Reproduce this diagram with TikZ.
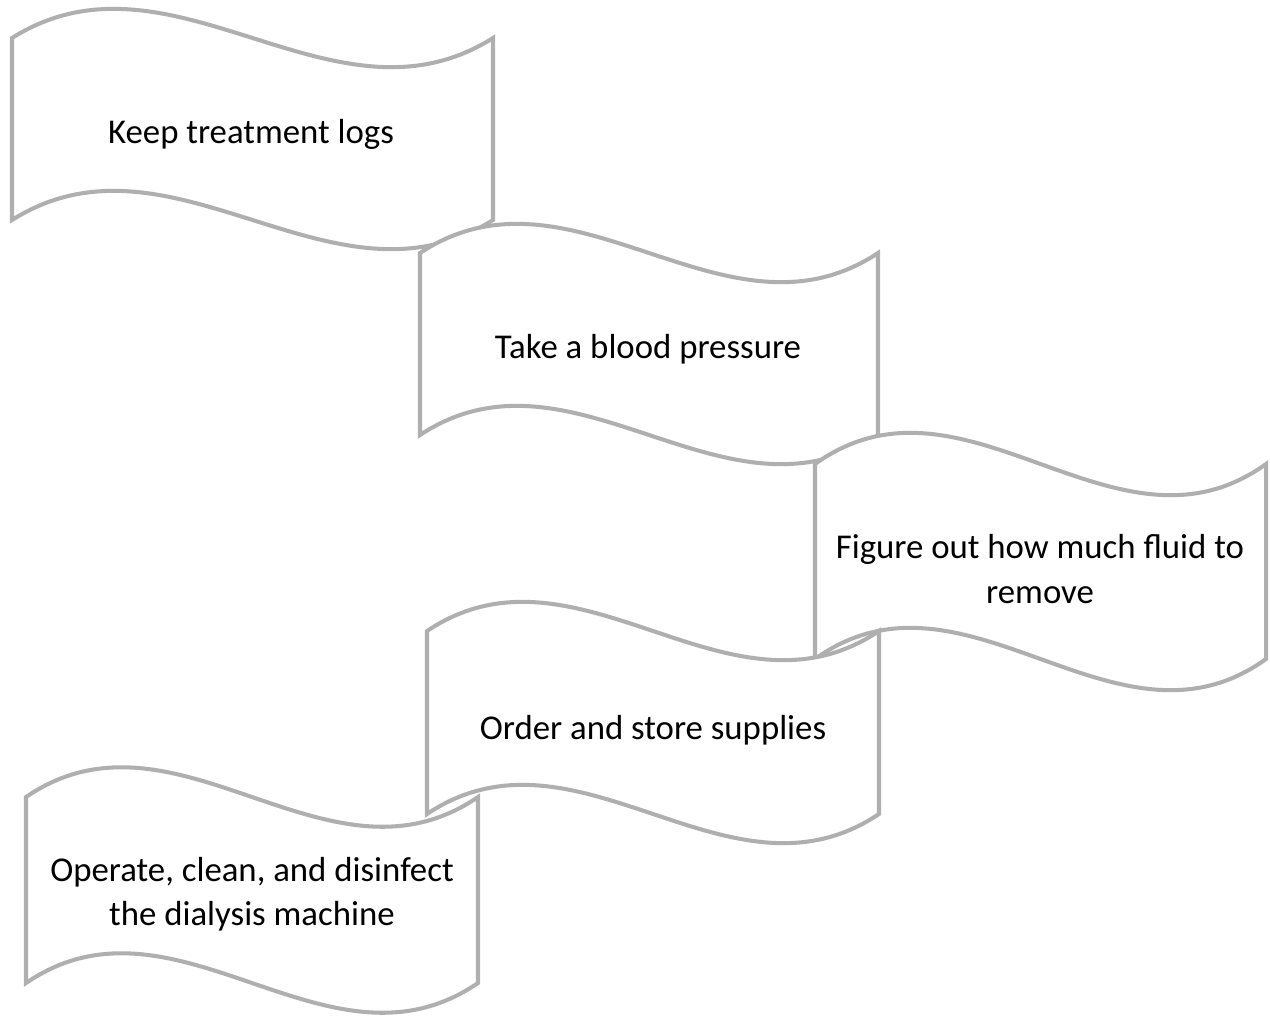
\documentclass[tikz,border=0pt]{standalone}
\usepackage{fontspec}
\setmainfont{Carlito}
\definecolor{waveline}{RGB}{175,175,175}
\tikzset{
  waveshape/.style={draw=waveline, line width=2.3pt, fill=white},
  wavetext/.style={align=center, font=\fontsize{19.8}{25.2}\selectfont, text=black, inner sep=0pt}
}
% #1 left, #2 right, #3 top corner y, #4 bottom corner y, #5 control offset
\newcommand\wavebox[5]{%
  \pgfmathsetmacro\wa{#1+(#2-#1)/3}%
  \pgfmathsetmacro\wb{#1+2*(#2-#1)/3}%
  \draw[waveshape] (#1,#3) .. controls (\wa,#3-#5) and (\wb,#3+#5) .. (#2,#3)
    -- (#2,#4) .. controls (\wb,#4+#5) and (\wa,#4-#5) .. (#1,#4) -- cycle;%
}
\begin{document}
\begin{tikzpicture}[x=0.02cm,y=-0.02cm]
\useasboundingbox (0,0) rectangle (1270,1015);
\wavebox{12}{493}{38}{220}{101}
\node[wavetext] (t1) at (251,134) {Keep treatment logs};
\wavebox{420}{878}{253}{435}{101}
\node[wavetext] (t2) at (648,349) {Take a blood pressure};
\wavebox{815}{1266}{464}{659}{108}
\node[wavetext] (t3) at (1040,569) {Figure out how much fluid to\\remove};
\wavebox{427}{879}{631}{814}{101}
\node[wavetext] (t4) at (653,730) {Order and store supplies};
\wavebox{26}{478}{797}{983}{103}
\node[wavetext] (t5) at (252,894) {Operate, clean, and disinfect\\the dialysis machine};
\end{tikzpicture}
\end{document}
